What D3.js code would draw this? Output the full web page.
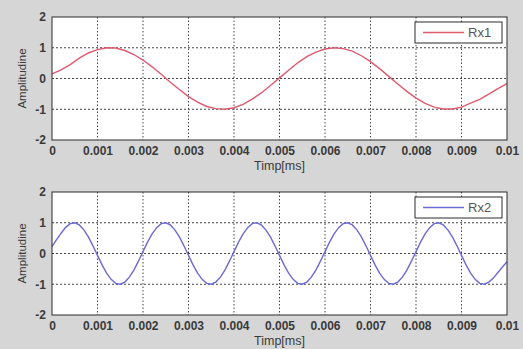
<!DOCTYPE html>
<html>
<head>
<meta charset="utf-8">
<script src="https://cdn.jsdelivr.net/npm/d3@7"></script>
<style>
  html, body { margin: 0; padding: 0; background: #d6d6d6; }
  svg { display: block; }
</style>
</head>
<body>
<div id="chart"></div>
<script>
// Sample spacing of each recorded signal (ms)
const rx1Step = 0.0002;
const rx2Step = 0.0001;

// Rx1 amplitude, one value every 0.0002 ms
const rx1Values = [
  0.15, 0.28, 0.45, 0.66, 0.83, 0.94, 1.0, 0.99, 0.91, 0.78,
  0.60, 0.38, 0.14, -0.12, -0.36, -0.59, -0.77, -0.91, -0.98, -1.0,
  -0.95, -0.84, -0.67, -0.47, -0.23, 0.02, 0.27, 0.51, 0.71, 0.86,
  0.96, 1.0, 0.97, 0.89, 0.74, 0.55, 0.32, 0.07, -0.18, -0.42,
  -0.64, -0.81, -0.93, -0.99, -0.99, -0.93, -0.80, -0.68, -0.51, -0.33,
  -0.17
];

// Rx2 amplitude, one value every 0.0001 ms
const rx2Values = [
  0.22, 0.45, 0.66, 0.85, 0.97, 1.0, 0.93, 0.77, 0.54, 0.25,
  -0.06, -0.37, -0.64, -0.84, -0.97, -1.0, -0.93, -0.77, -0.54, -0.25,
  0.06, 0.37, 0.64, 0.84, 0.97, 1.0, 0.93, 0.77, 0.54, 0.25,
  -0.06, -0.37, -0.64, -0.84, -0.97, -1.0, -0.93, -0.77, -0.54, -0.25,
  0.06, 0.37, 0.64, 0.84, 0.97, 1.0, 0.93, 0.77, 0.54, 0.25,
  -0.06, -0.37, -0.64, -0.84, -0.97, -1.0, -0.93, -0.77, -0.54, -0.25,
  0.06, 0.37, 0.64, 0.84, 0.97, 1.0, 0.93, 0.77, 0.54, 0.25,
  -0.06, -0.37, -0.64, -0.84, -0.97, -1.0, -0.93, -0.77, -0.54, -0.25,
  0.06, 0.37, 0.64, 0.84, 0.97, 1.0, 0.93, 0.77, 0.54, 0.25,
  -0.06, -0.37, -0.64, -0.84, -0.97, -1.0, -0.93, -0.80, -0.62, -0.44,
  -0.27
];

const xTicks = [0, 0.001, 0.002, 0.003, 0.004, 0.005, 0.006, 0.007, 0.008, 0.009, 0.01];
const xTickLabels = ["0", "0.001", "0.002", "0.003", "0.004", "0.005", "0.006", "0.007", "0.008", "0.009", "0.01"];
const yTicks = [-2, -1, 0, 1, 2];
const yTickLabels = ["-2", "-1", "0", "1", "2"];
const xTitle = "Timp[ms]";
const yTitle = "Amplitudine";

const width = 523;
const height = 349;
const font = "'Liberation Sans', Arial, sans-serif";
const axisColor = "#2a2a2a";
const textColor = "#3a3a3a";

const svg = d3.select("#chart").append("svg")
  .attr("width", width)
  .attr("height", height);

svg.append("rect")
  .attr("width", width)
  .attr("height", height)
  .attr("fill", "#d6d6d6");

const panels = [
  { name: "Rx1", values: rx1Values, step: rx1Step, color: "#de5a6e", top: 17 },
  { name: "Rx2", values: rx2Values, step: rx2Step, color: "#6b6bd6", top: 192 }
];

const plotLeft = 52;
const plotRight = 507;
const plotHeight = 123;

panels.forEach(p => {
  const x = d3.scaleLinear().domain([0, 0.01]).range([plotLeft, plotRight]);
  const y = d3.scaleLinear().domain([-2, 2]).range([p.top + plotHeight, p.top]);

  const g = svg.append("g");

  // white plot area
  g.append("rect")
    .attr("x", x(0))
    .attr("y", y(2))
    .attr("width", x(0.01) - x(0))
    .attr("height", y(-2) - y(2))
    .attr("fill", "#fff");

  // dotted grid
  xTicks.slice(1, -1).forEach(t => {
    g.append("line")
      .attr("x1", x(t)).attr("x2", x(t))
      .attr("y1", y(2)).attr("y2", y(-2))
      .attr("stroke", "#444")
      .attr("stroke-width", 1)
      .attr("stroke-dasharray", "1.5,2");
  });
  yTicks.slice(1, -1).forEach(t => {
    g.append("line")
      .attr("x1", x(0)).attr("x2", x(0.01))
      .attr("y1", y(t)).attr("y2", y(t))
      .attr("stroke", "#444")
      .attr("stroke-width", 1)
      .attr("stroke-dasharray", "2,2");
  });

  // signal
  const line = d3.line()
    .x((d, i) => x(i * p.step))
    .y(d => y(d));

  g.append("path")
    .datum(p.values)
    .attr("fill", "none")
    .attr("stroke", p.color)
    .attr("stroke-width", 1.4)
    .attr("d", line);

  // axes box
  g.append("rect")
    .attr("x", x(0))
    .attr("y", y(2))
    .attr("width", x(0.01) - x(0))
    .attr("height", y(-2) - y(2))
    .attr("fill", "none")
    .attr("stroke", axisColor)
    .attr("stroke-width", 1);

  // tick labels
  const xAxis = d3.axisBottom(x)
    .tickValues(xTicks)
    .tickFormat((d, i) => xTickLabels[i])
    .tickSize(0)
    .tickPadding(6);
  const xg = g.append("g")
    .attr("transform", `translate(0,${y(-2)})`)
    .call(xAxis);

  const yAxis = d3.axisLeft(y)
    .tickValues(yTicks)
    .tickFormat((d, i) => yTickLabels[i])
    .tickSize(0)
    .tickPadding(6);
  const yg = g.append("g")
    .attr("transform", `translate(${x(0)},0)`)
    .call(yAxis);

  [xg, yg].forEach(a => {
    a.select(".domain").remove();
    a.selectAll("text")
      .attr("fill", textColor)
      .attr("font-size", "12px")
      .attr("font-weight", "bold")
      .attr("font-family", font);
  });

  // axis titles
  g.append("text")
    .attr("x", (x(0) + x(0.01)) / 2)
    .attr("y", y(-2) + 30)
    .attr("text-anchor", "middle")
    .attr("fill", textColor)
    .attr("font-size", "12.5px")
    .attr("font-family", font)
    .text(xTitle);

  g.append("text")
    .attr("transform", `translate(26,${y(0)}) rotate(-90)`)
    .attr("text-anchor", "middle")
    .attr("fill", textColor)
    .attr("font-size", "11.5px")
    .attr("font-family", font)
    .text(yTitle);

  // legend
  const lg = g.append("g").attr("transform", `translate(415,${p.top + 5})`);
  lg.append("rect")
    .attr("width", 87)
    .attr("height", 21)
    .attr("fill", "#fff")
    .attr("stroke", axisColor)
    .attr("stroke-width", 1);
  lg.append("line")
    .attr("x1", 8).attr("x2", 49)
    .attr("y1", 10.5).attr("y2", 10.5)
    .attr("stroke", p.color)
    .attr("stroke-width", 1.4);
  lg.append("text")
    .attr("x", 53)
    .attr("y", 15)
    .attr("fill", "#555")
    .attr("font-size", "13px")
    .attr("font-family", font)
    .text(p.name);
});
</script>
</body>
</html>
